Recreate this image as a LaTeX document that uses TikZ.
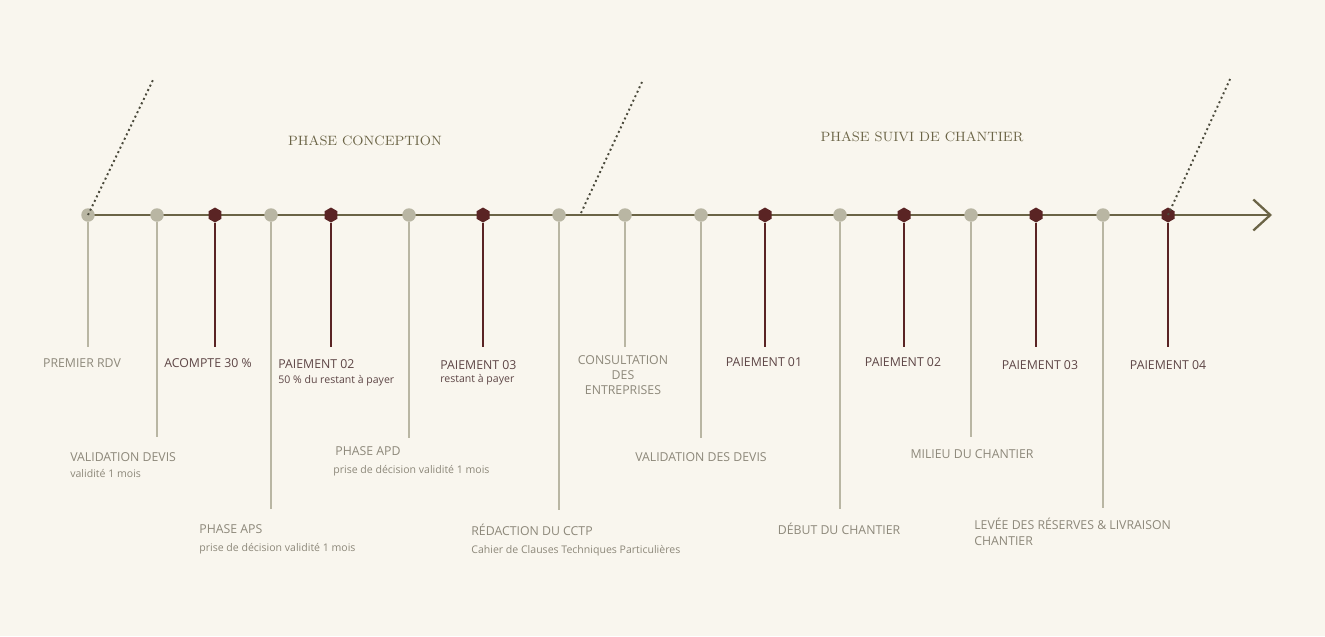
\documentclass[tikz,border=0pt]{standalone}
\usepackage{fontspec}
\newfontfamily\labelfont{Open Sans}
\usepackage{tikz}
\usetikzlibrary{shapes.geometric, arrows.meta}
\definecolor{bgcream}{HTML}{F9F6EE}
\definecolor{lineolive}{HTML}{6B6446}
\definecolor{dotdark}{HTML}{4B4A3C}
\definecolor{stonegrey}{HTML}{B9B6A3}
\definecolor{wine}{HTML}{5A2424}
\definecolor{txtgreycol}{HTML}{8D887A}
\definecolor{txtpaycol}{HTML}{5E4646}
\tikzstyle{milestone} = [circle, fill=stonegrey, minimum size=0.27cm, inner sep=0pt]
\tikzstyle{payment} = [regular polygon, regular polygon sides=6, shape border rotate=30, fill=wine, minimum size=0.3cm, inner sep=0pt]
\tikzstyle{stemgrey} = [draw=stonegrey, line width=0.8pt]
\tikzstyle{stempay} = [draw=wine, line width=0.8pt]
\tikzstyle{timeline} = [draw=lineolive, line width=1.4pt, -{Straight Barb[length=0.34cm, width=0.62cm, line width=1.3pt]}]
\tikzstyle{phaseline} = [draw=dotdark, line width=1.1pt, dash pattern=on 1.1pt off 1.7pt]
\tikzstyle{txtgrey} = [text=txtgreycol, font=\labelfont\fontsize{7}{8.7}\selectfont, inner sep=0pt]
\tikzstyle{txtpay} = [text=txtpaycol, font=\labelfont\fontsize{7}{8.7}\selectfont, inner sep=0pt]
\tikzstyle{txtsub} = [text=txtgreycol, font=\labelfont\fontsize{6}{7}\selectfont, inner sep=0pt]
\tikzstyle{txtsubpay} = [text=txtpaycol, font=\labelfont\fontsize{6}{7}\selectfont, inner sep=0pt]
\tikzstyle{phasetitle} = [text=lineolive, font=\rmfamily\fontsize{7.7}{10}\selectfont, inner sep=0pt]

\begin{document}
\begin{tikzpicture}[x=0.02cm, y=-0.02cm]
\fill [bgcream] (0,0) rectangle (1325,636);
% the axis
\coordinate (tstart) at (88,215);
\coordinate (tend) at (1272,215);
\draw [timeline] (tstart) -- (tend);
% phase titles
\node (phase1) [phasetitle] at (365,141) {PHASE CONCEPTION};
\node (phase2) [phasetitle] at (922,137) {PHASE SUIVI DE CHANTIER};
% markers
\node (m1) [milestone] at (88,215) {};
\node (m2) [milestone] at (157,215) {};
\node (m3) [payment] at (215,215) {};
\node (m4) [milestone] at (271,215) {};
\node (m5) [payment] at (331,215) {};
\node (m6) [milestone] at (409,215) {};
\node (m7) [payment] at (483,215) {};
\node (m8) [milestone] at (559,215) {};
\node (m9) [milestone] at (625,215) {};
\node (m10) [milestone] at (701,215) {};
\node (m11) [payment] at (765,215) {};
\node (m12) [milestone] at (840,215) {};
\node (m13) [payment] at (904,215) {};
\node (m14) [milestone] at (971,215) {};
\node (m15) [payment] at (1036,215) {};
\node (m16) [milestone] at (1103,215) {};
\node (m17) [payment] at (1168,215) {};
% stem ends
\coordinate (e1) at (88,347);
\coordinate (e2) at (157,437);
\coordinate (e3) at (215,347);
\coordinate (e4) at (271,509);
\coordinate (e5) at (331,347);
\coordinate (e6) at (409,438);
\coordinate (e7) at (483,347);
\coordinate (e8) at (559,510);
\coordinate (e9) at (625,347);
\coordinate (e10) at (701,438);
\coordinate (e11) at (765,347);
\coordinate (e12) at (840,509);
\coordinate (e13) at (904,347);
\coordinate (e14) at (971,437);
\coordinate (e15) at (1036,347);
\coordinate (e16) at (1103,508);
\coordinate (e17) at (1168,347);
\draw [stemgrey] (m1) -- (e1);
\draw [stemgrey] (m2) -- (e2);
\draw [stempay] (m3) -- (e3);
\draw [stemgrey] (m4) -- (e4);
\draw [stempay] (m5) -- (e5);
\draw [stemgrey] (m6) -- (e6);
\draw [stempay] (m7) -- (e7);
\draw [stemgrey] (m8) -- (e8);
\draw [stemgrey] (m9) -- (e9);
\draw [stemgrey] (m10) -- (e10);
\draw [stempay] (m11) -- (e11);
\draw [stemgrey] (m12) -- (e12);
\draw [stempay] (m13) -- (e13);
\draw [stemgrey] (m14) -- (e14);
\draw [stempay] (m15) -- (e15);
\draw [stemgrey] (m16) -- (e16);
\draw [stempay] (m17) -- (e17);
% phase limits
\coordinate (d1) at (153,80);
\coordinate (p2) at (581,213);
\coordinate (d2) at (642,82);
\coordinate (d3) at (1231,77);
\draw [phaseline] (m1.center) -- (d1);
\draw [phaseline] (p2) -- (d2);
\draw [phaseline] (m17.center) -- (d3);
% labels
\node (l1) [txtgrey, anchor=base] at (82,367) {PREMIER RDV};
\node (l2) [txtgrey, anchor=base west] at (70,461) {VALIDATION DEVIS};
\node (s2) [txtsub, anchor=base west] at (70,477) {validité 1 mois};
\node (l3) [txtpay, anchor=base] at (208,367) {ACOMPTE 30 \%};
\node (l4) [txtgrey, anchor=base west] at (199,533) {PHASE APS};
\node (s4) [txtsub, anchor=base west] at (199,551) {prise de décision validité 1 mois};
\node (l5) [txtpay, anchor=base west] at (278,368) {PAIEMENT 02};
\node (s5) [txtsubpay, anchor=base west] at (278,383) {50 \% du restant à payer};
\node (l6) [txtgrey, anchor=base west] at (335,455) {PHASE APD};
\node (s6) [txtsub, anchor=base west] at (333,473) {prise de décision validité 1 mois};
\node (l7) [txtpay, anchor=base west] at (440,369) {PAIEMENT 03};
\node (s7) [txtsubpay, anchor=base west] at (440,382) {restant à payer};
\node (l8) [txtgrey, anchor=base west] at (471,535) {RÉDACTION DU CCTP};
\node (s8) [txtsub, anchor=base west] at (471,553) {Cahier de Clauses Techniques Particulières};
\node (l9) [txtgrey, anchor=north, align=center] at (623,355) {CONSULTATION\\DES\\ENTREPRISES};
\node (l10) [txtgrey, anchor=base] at (701,461) {VALIDATION DES DEVIS};
\node (l11) [txtpay, anchor=base] at (764,366) {PAIEMENT 01};
\node (l12) [txtgrey, anchor=base] at (839,534) {DÉBUT DU CHANTIER};
\node (l13) [txtpay, anchor=base] at (903,366) {PAIEMENT 02};
\node (l14) [txtgrey, anchor=base] at (972,458) {MILIEU DU CHANTIER};
\node (l15) [txtpay, anchor=base] at (1040,369) {PAIEMENT 03};
\node (l16) [txtgrey, anchor=north west, align=left] at (974,518) {LEVÉE DES RÉSERVES \& LIVRAISON\\CHANTIER};
\node (l17) [txtpay, anchor=base] at (1168,369) {PAIEMENT 04};
\end{tikzpicture}
\end{document}
